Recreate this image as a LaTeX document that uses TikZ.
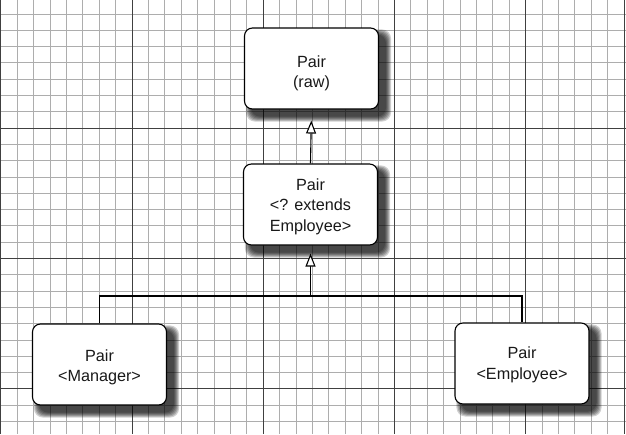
\documentclass[tikz,border=0pt]{standalone}
\usepackage{fontspec}
\setmainfont{Liberation Sans}
\usetikzlibrary{arrows.meta}
\pgfdeclarelayer{gridlayer}
\pgfdeclarelayer{shadowlayer}
\pgfsetlayers{gridlayer,shadowlayer,main}
\tikzset{
  cls/.style={draw=black, line width=1.1pt, rounded corners=8pt, fill=white,
    minimum width=134pt, minimum height=81pt, inner sep=0pt},
  clstext/.style={align=center, inner sep=0pt,
    font=\fontsize{16.2}{20.5}\selectfont, text=black!90},
  minorline/.style={draw=black!32, line width=0.7pt},
  majorline/.style={draw=black!75, line width=0.9pt},
  conn/.style={draw=black, line width=1.1pt},
  inh/.style={-{Triangle[open, fill=white, length=13pt, width=10pt, line width=1.1pt]}},
  shadowpart/.style={fill=black, opacity=0.19, rounded corners=9pt}
}
\newcommand{\boxshadow}[1]{%
  \begin{pgfonlayer}{shadowlayer}
  \foreach \e in {0,1,2,3,4,5}{
    \fill[shadowpart] ([xshift={(7-\e)*1pt}, yshift={(-7+\e)*1pt}]#1.north west)
      rectangle ([xshift={(7+\e)*1pt}, yshift={(-7-\e)*1pt}]#1.south east);
  }
  \end{pgfonlayer}}
\begin{document}
\begin{tikzpicture}[x=1pt,y=-1pt]
\useasboundingbox (0,0) rectangle (626,434);
\begin{pgfonlayer}{gridlayer}
  \fill[white] (0,0) rectangle (626,434);
  \foreach \k in {0,...,38}{
    \draw[minorline] ({0.8+16.4*\k},0) -- ({0.8+16.4*\k},434);
  }
  \foreach \k in {1,...,26}{
    \draw[minorline] (0,{-2.4+16.3*\k}) -- (626,{-2.4+16.3*\k});
  }
  \foreach \k in {0,1,2,3,4}{
    \draw[majorline] ({0.8+131.2*\k},0) -- ({0.8+131.2*\k},434);
  }
  \foreach \k in {1,2,3}{
    \draw[majorline] (0,{-2.4+130.4*\k}) -- (626,{-2.4+130.4*\k});
  }
  \draw[majorline] (624.5,0) -- (624.5,434);
\end{pgfonlayer}

\node[cls] (raw) at (311.5,68.5) {};
\node[cls] (ext) at (310.5,204.5) {};
\node[cls] (mgr) at (99.5,364.5) {};
\node[cls] (emp) at (522,363.5) {};
\node[clstext] (rawtext) at ([yshift=-5pt]raw.center) {Pair\\(raw)};
\node[clstext] (exttext) at ([yshift=-2pt]ext.center) {Pair\\\textless? extends\\Employee\textgreater};
\node[clstext] (mgrtext) at ([yshift=-3pt]mgr.center) {Pair\\\textless Manager\textgreater};
\node[clstext] (emptext) at ([yshift=-1.5pt]emp.center) {Pair\\\textless Employee\textgreater};
\boxshadow{raw}
\boxshadow{ext}
\boxshadow{mgr}
\boxshadow{emp}

\coordinate (j) at (310.5,296);
\draw[conn, inh, shorten >=11pt] (ext.north) -- (raw.south);
\draw[conn, inh, shorten >=8pt] (j) -- (ext.south);
\draw[conn] (mgr.north) |- (j) -| (emp.north);
\end{tikzpicture}
\end{document}
